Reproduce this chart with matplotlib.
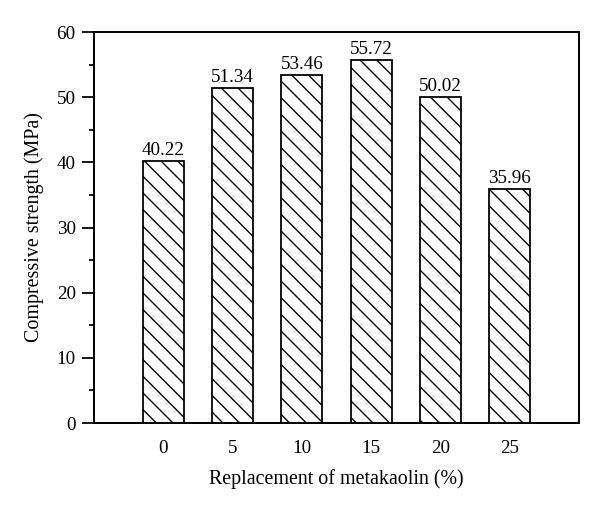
import matplotlib
matplotlib.use("Agg")
import matplotlib.pyplot as plt
from matplotlib.ticker import MultipleLocator

categories = ["0", "5", "10", "15", "20", "25"]
values = [40.22, 51.34, 53.46, 55.72, 50.02, 35.96]
value_labels = ["40.22", "51.34", "53.46", "55.72", "50.02", "35.96"]

plt.rcParams['font.family'] = ['Liberation Serif', 'DejaVu Serif']
plt.rcParams['hatch.linewidth'] = 0.65

DPI = 150
fig = plt.figure(figsize=(600 / DPI, 509 / DPI), dpi=DPI)
ax = fig.add_axes([94/600, 1 - 423/509, (579-94)/600, (423-32)/509])

x = list(range(len(categories)))
bars = ax.bar(x, values, width=0.59, facecolor='white', edgecolor='black',
              linewidth=0.85, hatch='\\\\\\')
for xi, v, lab in zip(x, values, value_labels):
    ax.text(xi, v + 0.3, lab, ha='center', va='bottom', fontsize=9.2)

ax.set_xlim(-1, 6)
ax.set_ylim(0, 60)
ax.set_xticks(x)
ax.set_xticklabels(categories, fontsize=9.2)
ax.yaxis.set_major_locator(MultipleLocator(10))
ax.yaxis.set_minor_locator(MultipleLocator(5))
ax.tick_params(axis='y', which='major', direction='out', length=5.8, width=0.85, labelsize=9.2, pad=3)
ax.tick_params(axis='y', which='minor', direction='out', length=2.6, width=0.85)
ax.tick_params(axis='x', which='both', length=0, pad=8)
for s in ax.spines.values():
    s.set_linewidth(0.95)

ax.set_xlabel("Replacement of metakaolin (%)", fontsize=9.6, labelpad=6)
ax.set_ylabel("Compressive strength (MPa)", fontsize=9.6, labelpad=6)

fig.savefig("out.png", dpi=DPI)
